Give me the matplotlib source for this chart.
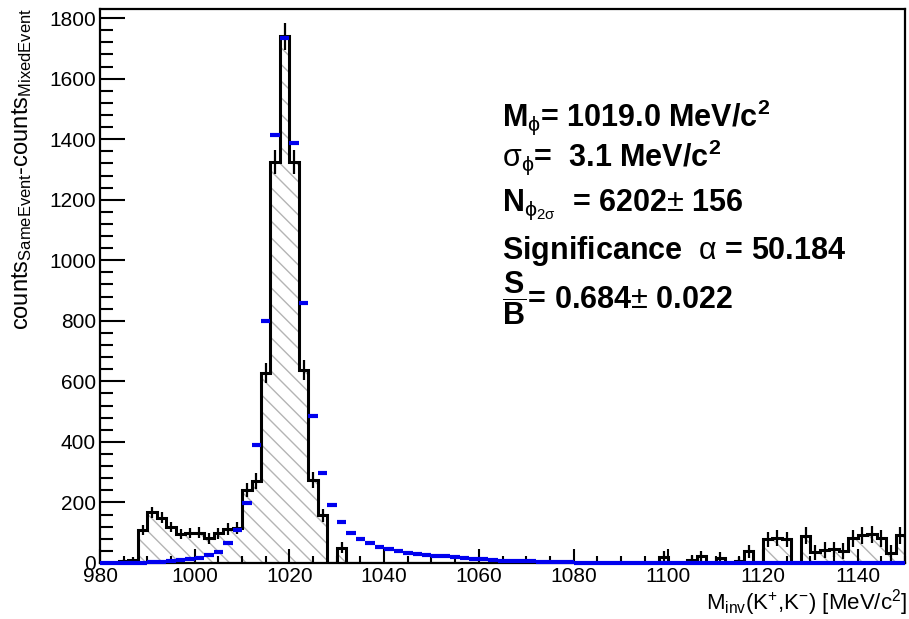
import numpy as np
import matplotlib
matplotlib.use("Agg")
import matplotlib.pyplot as plt

plt.rcParams['font.family'] = ['Liberation Sans', 'DejaVu Sans']
plt.rcParams['mathtext.fontset'] = 'custom'
plt.rcParams['mathtext.rm'] = 'Liberation Sans'
plt.rcParams['mathtext.it'] = 'Liberation Sans:italic'
plt.rcParams['mathtext.bf'] = 'Liberation Sans:bold'
plt.rcParams['mathtext.default'] = 'regular'
plt.rcParams['hatch.linewidth'] = 1.0

# 2 MeV bins from 980 to 1150
bin_lo = 980
bin_hi = 1150
bin_w = 2

# same-event minus mixed-event counts (black, hatched)
counts = [0, 0, 5, 10, 108, 168, 150, 118, 96, 98,
          100, 82, 98, 112, 115, 241, 270, 627, 1325, 1740,
          1325, 637, 274, 158, 0, 50,
          0, 0, 0, 0, 0, 0, 0, 0, 0, 0, 0, 0, 0, 0, 0, 0, 0,
          0, 0, 0, 0, 0, 0, 0, 0, 0, 0, 0, 0, 0, 0, 0, 0,
          21, 0, 0, 10, 22, 0, 18, 0, 5, 38,
          0, 78, 82, 78, 0, 90, 35, 42, 45, 40,
          82, 92, 95, 82, 32, 92]
count_err = [0, 0, 8, 10, 16, 18, 18, 17, 17, 17,
             18, 18, 19, 20, 20, 24, 26, 32, 40, 45,
             40, 32, 25, 22, 0, 18,
             0, 0, 0, 0, 0, 0, 0, 0, 0, 0, 0, 0, 0, 0, 0, 0, 0,
             0, 0, 0, 0, 0, 0, 0, 0, 0, 0, 0, 0, 0, 0, 0, 0,
             18, 0, 0, 15, 18, 0, 18, 0, 15, 22,
             0, 26, 26, 26, 0, 28, 26, 26, 26, 26,
             28, 28, 28, 28, 26, 28]

# fit / model (blue)
model = [0, 0, 0, 1, 1, 2, 4, 7, 9, 12,
         18, 26, 37, 67, 109, 197, 390, 800, 1414, 1735,
         1386, 858, 487, 298, 192, 136, 99, 78, 65, 52,
         45, 41, 34, 30, 28, 24, 22, 20, 18, 14,
         12, 10, 7, 6, 5, 5, 3, 3, 2, 2,
         1, 1, 1, 1, 1, 1, 1, 1, 1, 1,
         0, 0, 0, 0, 0, 0, 0, 0, 0, 0,
         0, 0, 0, 0, 0, 0, 0, 0, 0, 0,
         0, 0, 0, 0, 0]

info_lines = [
    r'M$_{\mathrm{\phi}}$= 1019.0 MeV/c$^{\mathbf{2}}$',
    r'$\mathrm{\sigma_{\phi}}$=  3.1 MeV/c$^{\mathbf{2}}$',
    r'N$_{\mathrm{\phi_{2\sigma}}}$  = 6202$\mathrm{\pm}$ 156',
    r'Significance  $\mathrm{\alpha}$ = 50.184',
    r'$\dfrac{\mathbf{S}}{\mathbf{B}}$= 0.684$\mathrm{\pm}$ 0.022',
]
info_y = [117, 157, 205, 251, 298]  # pixel rows from top

W, H = 909, 619
fig = plt.figure(figsize=(W / 100, H / 100), dpi=100)
ax = fig.add_axes([100 / W, 1 - 563 / H, 805 / W, 554 / H])

edges = np.arange(bin_lo, bin_hi + bin_w, bin_w)
centers = edges[:-1] + bin_w / 2
counts = np.array(counts, dtype=float)
count_err = np.array(count_err, dtype=float)

# hatched fill then black outline
ax.stairs(counts, edges, fill=True, facecolor='white', edgecolor='#b4b4b4',
          hatch='\\\\', linewidth=0, zorder=1)
ax.stairs(counts, edges, color='black', linewidth=2.2, baseline=0, zorder=2)
m = count_err > 0
ax.vlines(centers[m], counts[m] - count_err[m], counts[m] + count_err[m],
          color='black', linewidth=1.6, zorder=3)

ax.hlines(model, edges[:-1], edges[1:], color='#0000ee', linewidth=3,
          zorder=4, clip_on=False)

ax.set_xlim(bin_lo, bin_hi)
ax.set_ylim(0, 1830)
ax.set_xticks(np.arange(980, 1141, 20))
ax.set_xticks(np.arange(980, 1151, 5), minor=True)
ax.set_yticks(np.arange(0, 1801, 200))
ax.set_yticks(np.arange(0, 1830, 40), minor=True)
ax.tick_params(axis='both', which='both', direction='in', labelsize=15,
               width=1.5, top=False, right=False)
ax.tick_params(axis='x', which='major', length=10, pad=3)
ax.tick_params(axis='x', which='minor', length=5)
ax.tick_params(axis='y', which='major', length=18, pad=3)
ax.tick_params(axis='y', which='minor', length=9)
for s in ax.spines.values():
    s.set_linewidth(1.6)

fig.text(0.998, 1 - 603 / H, r'M$_{\rm inv}$(K$^{+}$,K$^{-}$) [MeV/c$^{2}$]',
         ha='right', va='center', fontsize=16)
fig.text(22 / W, 1 - 8 / H,
         r'counts$_{\rm SameEvent}$-counts$_{\rm MixedEvent}$',
         rotation=90, ha='center', va='top', fontsize=17)

for txt, yp in zip(info_lines, info_y):
    fig.text(502 / W, 1 - yp / H, txt, ha='left', va='center',
             fontsize=22, fontweight='bold')

fig.savefig('out.png', dpi=100)
